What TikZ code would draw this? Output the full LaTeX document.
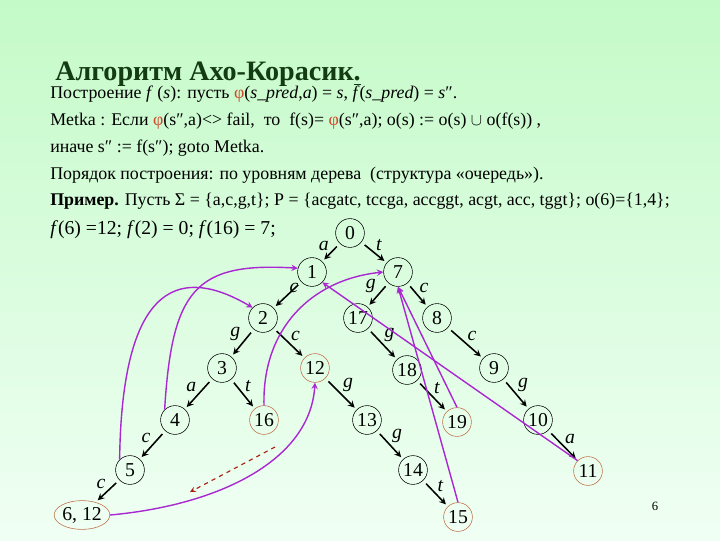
\documentclass[tikz,border=0pt]{standalone}
\usepackage{amsmath}
\usepackage{fontspec}
\setmainfont{Liberation Serif}
\usetikzlibrary{shapes,arrows,positioning}

\definecolor{bgtop}{RGB}{196,250,200}
\definecolor{bgbot}{RGB}{240,255,244}
\definecolor{titlegreen}{RGB}{20,60,20}
\definecolor{failink}{RGB}{170,40,210}
\definecolor{outnode}{RGB}{190,110,70}
\definecolor{phired}{RGB}{210,70,40}
\definecolor{dashred}{RGB}{170,30,20}

\tikzset{
  state/.style={circle,draw=black,minimum size=0.72cm,inner sep=0pt,font=\fontsize{14}{16}\selectfont},
  outstate/.style={state,draw=outnode},
  trans/.style={-stealth,line width=1.1pt,shorten <=3pt,shorten >=2pt},
  lbl/.style={font=\fontsize{14}{16}\itshape\selectfont,inner sep=1pt},
  fail/.style={-stealth,line width=1pt,failink},
  txt/.style={anchor=west,inner sep=0pt,font=\fontsize{12.7}{15}\selectfont}
}
\newcommand{\phired}{\textcolor{phired}{φ}}

\begin{document}
\begin{tikzpicture}[x=0.025cm,y=-0.025cm]
% background
\fill[top color=bgtop,bottom color=bgbot] (0,0) rectangle (720,540);
\useasboundingbox (0,0) rectangle (720,540);

% heading and text lines
\node[anchor=west,inner sep=0pt,text=titlegreen,font=\fontsize{20}{24}\bfseries\selectfont] (title) at (55,74) {Алгоритм Ахо-Корасик\underline{.}};
\node[txt] (line1) at (50,94) {Построение \textit{f} (\textit{s}): пусть \phired(\textit{s\_pred},\textit{a}) = \textit{s}, \textit{f}(\textit{s\_pred}) = \textit{s}″.};
\node[txt] (line2) at (50,121) {Metka : Если \phired(s″,a)<> fail,\ \ то\ \ f(s)= \phired(s″,a); o(s) := o(s) $\cup$ o(f(s)) ,};
\node[txt] (line3) at (50,148) {иначе s″ := f(s″); goto Metka.};
\node[txt] (line4) at (50,175) {Порядок построения: по уровням дерева\ \ (структура «очередь»).};
\node[txt] (line5) at (50,201) {\textbf{Пример.} Пусть Σ = \{a,c,g,t\}; P = \{acgatc, tccga, accggt, acgt, acc, tggt\}; o(6)=\{1,4\};};
\node[txt,font=\fontsize{14}{16}\selectfont] (line6) at (50,230) {\textit{f}(6) =12; \textit{f}(2) = 0; \textit{f}(16) = 7;};

% trie states
\node[state] (n0) at (350,233) {0};
\node[state] (n1) at (312,272) {1};
\node[state] (n7) at (398,272) {7};
\node[state] (n2) at (263,318) {2};
\node[state] (n17) at (358,318) {17};
\node[state] (n8) at (437,318) {8};
\node[state] (n3) at (222,368) {3};
\node[outstate] (n12) at (315,368) {12};
\node[state] (n18) at (407,370) {18};
\node[state] (n9) at (494,368) {9};
\node[state] (n4) at (175,420) {4};
\node[outstate] (n16) at (264,420) {16};
\node[state] (n13) at (367,420) {13};
\node[outstate] (n19) at (457,422) {19};
\node[state] (n10) at (538,420) {10};
\node[state] (n5) at (130,470) {5};
\node[state] (n14) at (413,470) {14};
\node[outstate] (n11) at (588,471) {11};
\node[ellipse,draw=outnode,minimum width=1.2cm,minimum height=0.72cm,inner sep=0pt,font=\fontsize{14}{16}\selectfont] (n6) at (82,515) {6, 12};
\node[outstate] (n15) at (458,517) {15};

% goto edges
\draw[trans] (n0) -- (n1) node[lbl,midway,above left] {a};
\draw[trans] (n0) -- (n7) node[lbl,midway,above right] {t};
\draw[trans] (n1) -- (n2) node[lbl,midway,above right] {c};
\draw[trans] (n7) -- (n17) node[lbl,midway,above left] {g};
\draw[trans] (n7) -- (n8) node[lbl,midway,above right] {c};
\draw[trans] (n2) -- (n3) node[lbl,midway,above left] {g};
\draw[trans] (n2) -- (n12) node[lbl,midway,above right] {c};
\draw[trans] (n17) -- (n18) node[lbl,midway,above right] {g};
\draw[trans] (n8) -- (n9) node[lbl,midway,above right] {c};
\draw[trans] (n3) -- (n4) node[lbl,midway,above left] {a};
\draw[trans] (n3) -- (n16) node[lbl,midway,above right] {t};
\draw[trans] (n12) -- (n13) node[lbl,midway,above right] {g};
\draw[trans] (n18) -- (n19) node[lbl,midway,above right] {t};
\draw[trans] (n9) -- (n10) node[lbl,midway,above right] {g};
\draw[trans] (n4) -- (n5) node[lbl,midway,above left] {c};
\draw[trans] (n13) -- (n14) node[lbl,midway,above right] {g};
\draw[trans] (n10) -- (n11) node[lbl,midway,above right] {a};
\draw[trans] (n5) -- (n6) node[lbl,midway,above left] {c};
\draw[trans] (n14) -- (n15) node[lbl,midway,above right] {t};

% failure links
\draw[fail] (n4.north west) .. controls (172,290) and (195,262) .. (n1.165);
\draw[fail] (n5.north west) .. controls (122,275) and (185,268) .. (n2.north west);
\draw[fail] (n16.north) .. controls (262,330) and (310,280) .. (n7.west);
\draw[fail] (n6.east) .. controls (220,505) and (310,460) .. (n12.south);
\draw[fail] (n11.north west) -- (n1.south east);
\draw[fail] (n19.north) -- (n7.south);
\draw[fail] (n15.north) -- (n7.south);

% dashed hint arrow
\coordinate (dashA) at (275,447);
\coordinate (dashB) at (190,492);
\draw[-stealth,dashed,thick,dashred] (dashA) -- (dashB);

\node[font=\small] (page) at (655,506) {6};
\end{tikzpicture}
\end{document}
